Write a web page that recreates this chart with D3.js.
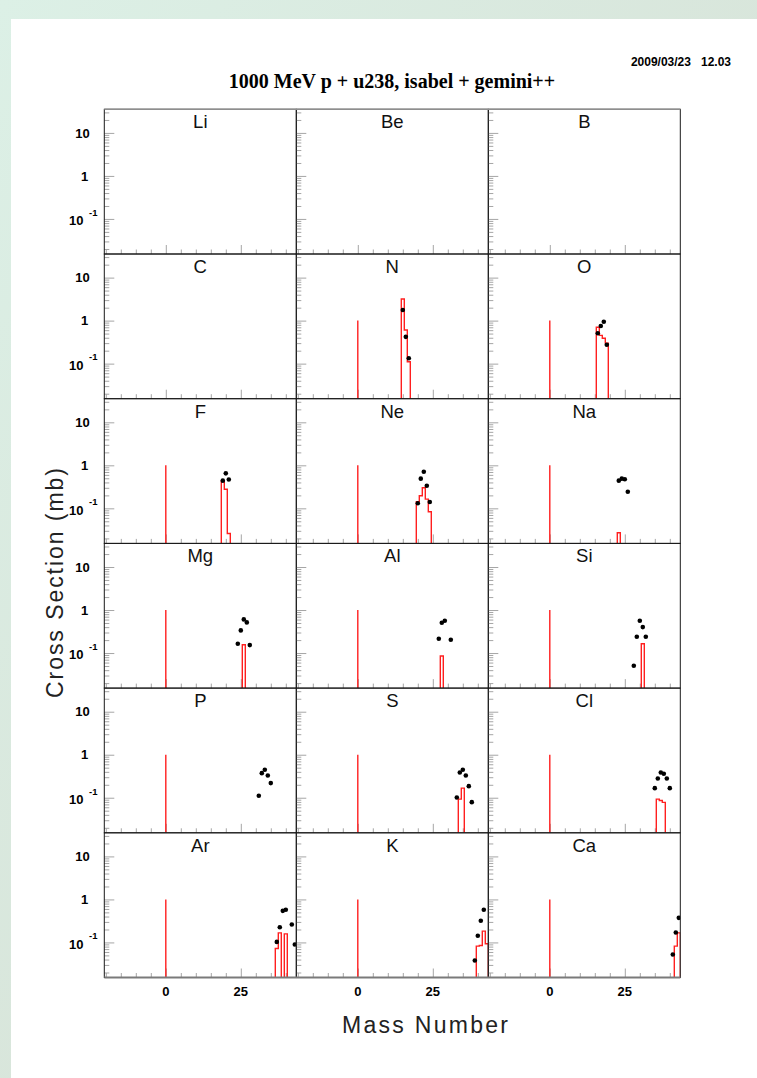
<!DOCTYPE html>
<html>
<head>
<meta charset="utf-8">
<script src="https://cdn.jsdelivr.net/npm/d3@7"></script>
<style>
  html, body { margin: 0; padding: 0; background: #fff; }
  svg { display: block; }
</style>
</head>
<body>
<svg id="chart" width="757" height="1078"></svg>
<script>
// ---- chart data ----
const titleText = "1000 MeV p + u238, isabel + gemini++";
const stampText = "2009/03/23   12.03";
const xAxisTitle = "Mass Number";
const yAxisTitle = "Cross Section (mb)";

// fragment elements, one pad each (3 columns x 6 rows)
const elements = ["Li", "Be", "B", "C", "N", "O", "F", "Ne", "Na",
                  "Mg", "Al", "Si", "P", "S", "Cl", "Ar", "K", "Ca"];

// x axis: major labelled ticks and minor ticks (mass number)
const xMajorTicks = [0, 25];
const xMinorTicks = [-20, -15, -10, -5, 5, 10, 15, 20, 30, 35, 40];
// y axis (log): labelled decades
const yMajorTicks = [10, 1, 0.1];

// measured isotopic cross sections: [element, mass number, mb]
const measured = [
  ["N", 15, 1.77], ["N", 16, 0.42], ["N", 17, 0.133],
  ["O", 16, 0.51], ["O", 17, 0.75], ["O", 18, 0.94], ["O", 19, 0.275],
  ["F", 19, 0.44], ["F", 20, 0.65], ["F", 21, 0.47],
  ["Ne", 20, 0.131], ["Ne", 21, 0.49], ["Ne", 22, 0.71], ["Ne", 23, 0.336], ["Ne", 24, 0.14],
  ["Na", 23, 0.44], ["Na", 24, 0.49], ["Na", 25, 0.475], ["Na", 26, 0.243],
  ["Mg", 24, 0.164], ["Mg", 25, 0.336], ["Mg", 26, 0.605], ["Mg", 27, 0.515], ["Mg", 28, 0.153],
  ["Al", 27, 0.215], ["Al", 28, 0.506], ["Al", 29, 0.564], ["Al", 31, 0.204],
  ["Si", 28, 0.0506], ["Si", 29, 0.239], ["Si", 30, 0.564], ["Si", 31, 0.401], ["Si", 32, 0.239],
  ["P", 31, 0.111], ["P", 32, 0.373], ["P", 33, 0.447], ["P", 34, 0.33], ["P", 35, 0.219],
  ["S", 33, 0.101], ["S", 34, 0.387], ["S", 35, 0.447], ["S", 36, 0.33], ["S", 37, 0.186], ["S", 38, 0.079],
  ["Cl", 35, 0.167], ["Cl", 36, 0.281], ["Cl", 37, 0.387], ["Cl", 38, 0.36], ["Cl", 39, 0.281], ["Cl", 40, 0.167],
  ["Ar", 37, 0.103], ["Ar", 38, 0.226], ["Ar", 39, 0.543], ["Ar", 40, 0.573], ["Ar", 42, 0.261], ["Ar", 43, 0.0895],
  ["K", 39, 0.038], ["K", 40, 0.143], ["K", 41, 0.318], ["K", 42, 0.573],
  ["Ca", 41, 0.0524], ["Ca", 42, 0.17], ["Ca", 43, 0.373]
];

// isabel + gemini++ histogram bins: [element, mass number, mb]
const simulated = [
  ["N", 15, 3.18], ["N", 16, 0.605], ["N", 17, 0.111],
  ["O", 16, 0.70], ["O", 17, 0.455], ["O", 18, 0.39], ["O", 19, 0.30],
  ["F", 19, 0.44], ["F", 20, 0.277], ["F", 21, 0.026],
  ["Ne", 20, 0.143], ["Ne", 21, 0.196], ["Ne", 22, 0.30], ["Ne", 23, 0.164], ["Ne", 24, 0.083],
  ["Na", 23, 0.027],
  ["Mg", 26, 0.156],
  ["Al", 28, 0.085],
  ["Si", 31, 0.164],
  ["S", 34, 0.093], ["S", 35, 0.167],
  ["Cl", 36, 0.093], ["Cl", 37, 0.086], ["Cl", 38, 0.078],
  ["Ar", 37, 0.072], ["Ar", 38, 0.167], ["Ar", 40, 0.158],
  ["K", 40, 0.082], ["K", 41, 0.085], ["K", 42, 0.183], ["K", 43, 0.093],
  ["Ca", 42, 0.082], ["Ca", 43, 0.167]
];

// unit-height spike at A = 0 drawn in the pads that carry the calculation
const spikeElements = ["N", "O", "F", "Ne", "Na", "Mg", "Al", "Si", "P", "S", "Cl", "Ar", "K", "Ca"];
const spikeMass = 0;
const spikeValue = 1;

// ---- layout ----
const W = 757, H = 1078;
const gridX = 104.3, gridY = 109.3;
const padW = 192, padH = 144.7;
const nCols = 3, nRows = 6;

const svg = d3.select("#chart");
const defs = svg.append("defs");

// page backdrop with tinted border strips
const bg = defs.append("linearGradient").attr("id", "pageTint")
  .attr("x1", 0).attr("y1", 0).attr("x2", 1).attr("y2", 1);
bg.append("stop").attr("offset", 0).attr("stop-color", "#dcf0e6");
bg.append("stop").attr("offset", 1).attr("stop-color", "#d5dcd1");
svg.append("rect").attr("width", W).attr("height", H).attr("fill", "url(#pageTint)");
svg.append("rect").attr("x", 11).attr("y", 19).attr("width", W - 11).attr("height", H - 19).attr("fill", "#ffffff");

defs.append("clipPath").attr("id", "padClip")
  .append("rect").attr("x", 0).attr("y", 0).attr("width", padW).attr("height", padH);

// scales shared by every pad
const x = d3.scaleLinear().domain([-20.5, 43.5]).range([0, padW]);
const y = d3.scaleLog().domain([0.0153, 35.4]).range([padH, 0]);

const yMinorTicks = [];
[-2, -1, 0, 1].forEach(p => {
  for (let k = 2; k <= 9; k++) {
    const v = k * Math.pow(10, p);
    if (v >= y.domain()[0] && v <= y.domain()[1]) yMinorTicks.push(v);
  }
});

const tickColor = "#a6a6a6";
const histColor = "#ff1f1f";
const labelFont = "'Liberation Sans', Arial, Helvetica, sans-serif";

function styleAxis(sel) {
  sel.select(".domain").remove();
  sel.selectAll("line").attr("stroke", tickColor).attr("stroke-width", 1);
  sel.selectAll("text").remove();
}

elements.forEach((el, i) => {
  const col = i % nCols, row = Math.floor(i / nCols);
  const g = svg.append("g")
    .attr("transform", `translate(${gridX + col * padW},${gridY + row * padH})`);

  // y ticks on the inner side of the left edge
  g.append("g").call(d3.axisLeft(y).tickValues(yMinorTicks).tickSize(-5)).call(styleAxis);
  g.append("g").call(d3.axisLeft(y).tickValues(yMajorTicks).tickSize(-10)).call(styleAxis);
  // x ticks on the inner side of the bottom edge
  g.append("g").attr("transform", `translate(0,${padH})`)
    .call(d3.axisBottom(x).tickValues(xMinorTicks).tickSize(-4.5)).call(styleAxis);
  g.append("g").attr("transform", `translate(0,${padH})`)
    .call(d3.axisBottom(x).tickValues(xMajorTicks).tickSize(-9)).call(styleAxis);

  const plot = g.append("g").attr("clip-path", "url(#padClip)");

  // spike at A = 0
  if (spikeElements.includes(el)) {
    plot.append("line")
      .attr("x1", x(spikeMass)).attr("x2", x(spikeMass))
      .attr("y1", padH).attr("y2", y(spikeValue))
      .attr("stroke", histColor).attr("stroke-width", 1.4);
  }

  // histogram outline, one sub-path per run of adjacent filled bins
  const bins = simulated.filter(d => d[0] === el).sort((a, b) => a[1] - b[1]);
  if (bins.length) {
    const p = d3.path();
    let prev = null;
    bins.forEach(([, a, v]) => {
      if (prev === null || a !== prev + 1) {
        if (prev !== null) p.lineTo(x(prev + 0.5), padH);
        p.moveTo(x(a - 0.5), padH);
      }
      p.lineTo(x(a - 0.5), y(v));
      p.lineTo(x(a + 0.5), y(v));
      prev = a;
    });
    p.lineTo(x(prev + 0.5), padH);
    plot.append("path").attr("d", p.toString())
      .attr("fill", "none").attr("stroke", histColor)
      .attr("stroke-width", 1.4).attr("stroke-linejoin", "miter");
  }

  // measured points
  plot.selectAll("circle")
    .data(measured.filter(d => d[0] === el))
    .join("circle")
    .attr("cx", d => x(d[1]))
    .attr("cy", d => y(d[2]))
    .attr("r", 2.3)
    .attr("fill", "#000");

  // pad frame
  g.append("rect").attr("width", padW).attr("height", padH)
    .attr("fill", "none").attr("stroke", "#1a1a1a").attr("stroke-width", 1);

  // element name
  g.append("text")
    .attr("x", padW / 2).attr("y", 19)
    .attr("text-anchor", "middle")
    .attr("font-family", labelFont)
    .attr("font-size", 18.5)
    .attr("fill", "#111")
    .text(el);

  // decade labels on the left column
  if (col === 0) {
    yMajorTicks.forEach(v => {
      const ty = y(v);
      const exp = Math.round(Math.log10(v));
      if (exp === 0) {
        g.append("text").attr("x", 84.5 - 104.3).attr("y", ty + 4.6)
          .attr("text-anchor", "middle").attr("font-family", labelFont)
          .attr("font-weight", "bold").attr("font-size", 13).text("1");
      } else if (exp === 1) {
        g.append("text").attr("x", 82.5 - 104.3).attr("y", ty + 4.6)
          .attr("text-anchor", "middle").attr("font-family", labelFont)
          .attr("font-weight", "bold").attr("font-size", 13).text("10");
      } else {
        g.append("text").attr("x", 83.5 - 104.3).attr("y", ty + 6.2)
          .attr("text-anchor", "end").attr("font-family", labelFont)
          .attr("font-weight", "bold").attr("font-size", 13).text("10");
        g.append("text").attr("x", 89 - 104.3).attr("y", ty - 3.2)
          .attr("text-anchor", "start").attr("font-family", labelFont)
          .attr("font-weight", "bold").attr("font-size", 9.5).text(String(exp));
      }
    });
  }

  // mass-number labels on the bottom row
  if (row === nRows - 1) {
    xMajorTicks.forEach(v => {
      g.append("text").attr("x", x(v)).attr("y", padH + 18.2)
        .attr("text-anchor", "middle").attr("font-family", labelFont)
        .attr("font-weight", "bold").attr("font-size", 13).text(String(v));
    });
  }
});

// outer top and bottom edges of the pad grid
svg.append("line")
  .attr("x1", gridX).attr("x2", gridX + nCols * padW)
  .attr("y1", gridY).attr("y2", gridY)
  .attr("stroke", "#8e8e8e").attr("stroke-width", 1.6);
svg.append("line")
  .attr("x1", gridX).attr("x2", gridX + nCols * padW)
  .attr("y1", gridY + nRows * padH).attr("y2", gridY + nRows * padH)
  .attr("stroke", "#7a7a7a").attr("stroke-width", 1.8);

// title and time stamp
svg.append("text")
  .attr("x", 392).attr("y", 88)
  .attr("text-anchor", "middle")
  .attr("font-family", "'Liberation Serif', 'Times New Roman', serif")
  .attr("font-weight", "bold").attr("font-size", 20)
  .text(titleText);
svg.append("text")
  .attr("x", 731).attr("y", 66)
  .attr("text-anchor", "end")
  .attr("font-family", labelFont)
  .attr("font-weight", "bold").attr("font-size", 12)
  .attr("xml:space", "preserve").style("white-space", "pre")
  .text(stampText);

// axis titles
svg.append("text")
  .attr("x", 425).attr("y", 1033)
  .attr("text-anchor", "middle")
  .attr("font-family", labelFont).attr("font-size", 23)
  .attr("fill", "#222")
  .attr("textLength", 166).attr("lengthAdjust", "spacing")
  .text(xAxisTitle);
svg.append("text")
  .attr("transform", "translate(63,583) rotate(-90)")
  .attr("text-anchor", "middle")
  .attr("font-family", labelFont).attr("font-size", 23)
  .attr("fill", "#222")
  .attr("textLength", 230).attr("lengthAdjust", "spacing")
  .text(yAxisTitle);
</script>
</body>
</html>
